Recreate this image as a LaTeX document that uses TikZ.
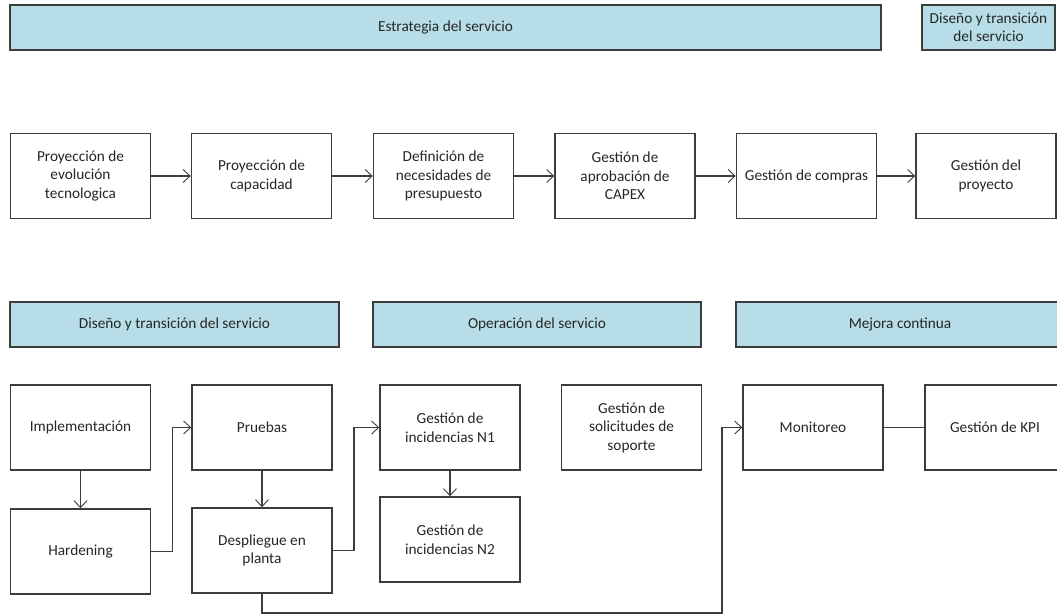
\documentclass[tikz,border=0pt]{standalone}
\usepackage{fontspec}
\setmainfont{Carlito}
\usetikzlibrary{arrows.meta}
\definecolor{phaseblue}{RGB}{183,221,232}
\definecolor{edge}{RGB}{60,60,60}
\begin{document}
\begin{tikzpicture}[x=1pt,y=-1pt,
  txt/.style={font=\fontsize{15.3}{18.5}\selectfont, text=black!85, align=center},
  proc/.style={txt, draw=edge, line width=1.5pt, fill=white,
    minimum width=140pt, minimum height=85pt, inner sep=0pt},
  phase/.style={txt, draw=edge, line width=2pt, fill=phaseblue,
    minimum height=45pt, inner sep=0pt},
  flow/.style={draw=edge, line width=1.5pt,
    -{Straight Barb[length=7pt,width=13pt,line width=0.9pt]}},
  link/.style={draw=edge, line width=1.5pt}]
\useasboundingbox (0,0) rectangle (1057,615);

% phase headers
\node[phase, minimum width=871pt] (est) at (445.5,27.5) {Estrategia del servicio};
\node[phase, minimum width=133pt] (dtA) at (988.5,27.5) {Diseño y transición\\del servicio};
\node[phase, minimum width=329pt] (dtB) at (174.5,324.5) {Diseño y transición del servicio};
\node[phase, minimum width=328pt] (op) at (537,324.5) {Operación del servicio};
\node[phase, minimum width=328pt] (mc) at (900,324.5) {Mejora continua};

% strategy chain
\node[proc] (p1) at (80.5,176) {Proyección de\\evolución\\tecnologica};
\node[proc] (p2) at (261.5,176) {Proyección de\\capacidad};
\node[proc] (p3) at (443.5,176) {Definición de\\necesidades de\\presupuesto};
\node[proc] (p4) at (625,176) {Gestión de\\aprobación de\\CAPEX};
\node[proc] (p5) at (806.5,176) {Gestión de compras};
\node[proc] (p6) at (986,176) {Gestión del\\proyecto};

% design, operation and improvement
\node[proc] (impl) at (80.5,427.5) {Implementación};
\node[proc] (hard) at (80.5,551.5) {Hardening};
\node[proc] (pru) at (262,427.5) {Pruebas};
\node[proc] (desp) at (262,550.5) {Despliegue en\\planta};
\node[proc] (n1) at (450,427.5) {Gestión de\\incidencias N1};
\node[proc] (n2) at (450,539.5) {Gestión de\\incidencias N2};
\node[proc] (sol) at (631.5,427.5) {Gestión de\\solicitudes de\\soporte};
\node[proc] (mon) at (813,427.5) {Monitoreo};
\node[proc] (kpi) at (995,427.5) {Gestión de KPI};

\coordinate (low) at (722,613);

% connectors
\draw[flow] (p1) -- (p2);
\draw[flow] (p2) -- (p3);
\draw[flow] (p3) -- (p4);
\draw[flow] (p4) -- (p5);
\draw[flow] (p5) -- (p6);
\draw[flow] (impl) -- (hard);
\draw[flow] (hard.east) -- ++(21,0) |- (pru.west);
\draw[flow] (pru) -- (desp);
\draw[flow] (desp.east) -- ++(21,0) |- (n1.west);
\draw[flow] (n1) -- (n2);
\draw[flow] (desp.south) |- (low) |- (mon.west);
\draw[link] (mon) -- (kpi);
\end{tikzpicture}
\end{document}
